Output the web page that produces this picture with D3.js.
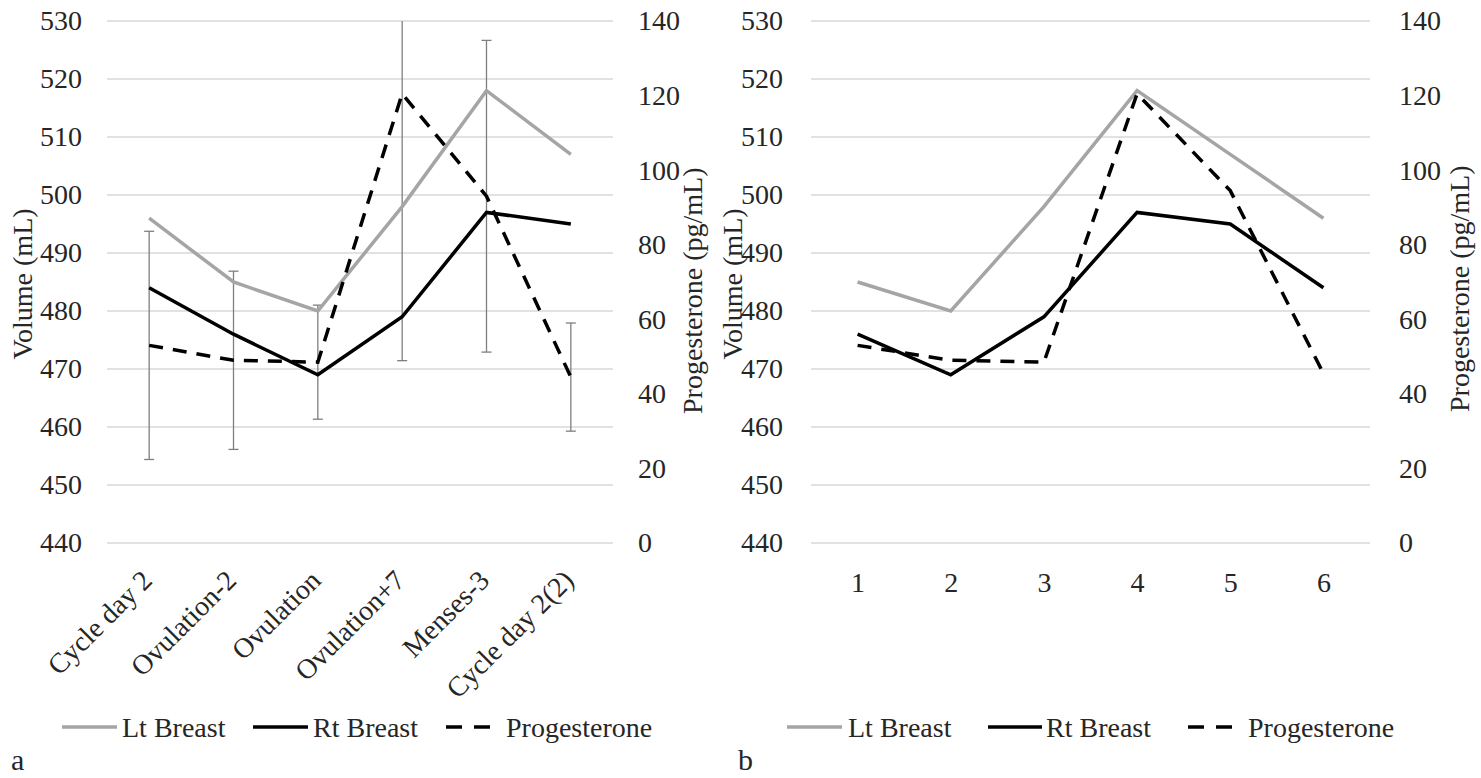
<!DOCTYPE html>
<html>
<head>
<meta charset="utf-8">
<script src="https://cdn.jsdelivr.net/npm/d3@7"></script>
<style>
  html, body { margin: 0; padding: 0; background: #fff; }
  svg { display: block; }
  svg text { font-family: "Liberation Serif", "DejaVu Serif", "Times New Roman", Times, serif !important; fill: #262626; }
</style>
</head>
<body>
<svg id="chart" width="1481" height="778" font-family="Liberation Serif, DejaVu Serif, serif"></svg>
<script>
// ---------- data ----------
const categoriesA = ["Cycle day 2", "Ovulation-2", "Ovulation", "Ovulation+7", "Menses-3", "Cycle day 2(2)"];
const categoriesB = ["1", "2", "3", "4", "5", "6"];

const ltBreastA = [496, 485, 480, 498, 518, 507];
const rtBreastA = [484, 476, 469, 479, 497, 495];
const progesteroneA = [53, 49, 48.5, 120.5, 93, 44.5];
const progesteroneErrA = [30.6, 23.9, 15.3, 71.6, 41.8, 14.5];

const ltBreastB = [485, 480, 498, 518, 507, 496];
const rtBreastB = [476, 469, 479, 497, 495, 484];
const progesteroneB = [53, 49, 48.5, 120.5, 94.5, 45.5];

const volumeTicks = [440, 450, 460, 470, 480, 490, 500, 510, 520, 530];
const progesteroneTicks = [0, 20, 40, 60, 80, 100, 120, 140];

const seriesNames = ["Lt Breast", "Rt Breast", "Progesterone"];
const volumeTitle = "Volume (mL)";
const progesteroneTitle = "Progesterone (pg/mL)";

// ---------- layout / style ----------
const FONT = 28;
const FAMILY = "'Liberation Serif', 'DejaVu Serif', 'Times New Roman', serif";
const colors = { lt: "#a5a5a5", rt: "#000000", prog: "#000000", grid: "#d9d9d9", err: "#7f7f7f" };
const LINE_W = 3.5;
const DASH = "14,10";

const panels = [
  {
    id: "a", cats: categoriesA, lt: ltBreastA, rt: rtBreastA, prog: progesteroneA, err: progesteroneErrA,
    x0: 107, x1: 613, top: 21, bottom: 543,
    leftPad: 25, rightPad: 25, rotated: true,
    volTitleX: 32, progTitleX: 702, titleBottom: 414,
    legend: { y: 727, items: [[62, 117, 122], [253, 308, 313], [446, 495, 506]] },
    letterX: 11
  },
  {
    id: "b", cats: categoriesB, lt: ltBreastB, rt: rtBreastB, prog: progesteroneB, err: null,
    x0: 811, x1: 1370, top: 21, bottom: 543,
    leftPad: 28, rightPad: 29, rotated: false,
    volTitleX: 742, progTitleX: 1469, titleBottom: 412,
    legend: { y: 727, items: [[787, 842, 848], [988, 1042, 1046], [1188, 1236, 1248]] },
    letterX: 738
  }
];

const svg = d3.select("#chart");
svg.append("rect").attr("width", 1481).attr("height", 778).attr("fill", "#fff");

function styleText(sel, size) {
  sel.attr("font-size", size).attr("font-family", FAMILY)
    .style("font-family", FAMILY).attr("fill", "#262626");
}

panels.forEach((p) => {
  const g = svg.append("g");
  const x = d3.scalePoint().domain(p.cats).range([p.x0, p.x1]).padding(0.5);
  const yL = d3.scaleLinear().domain([440, 530]).range([p.bottom, p.top]);
  const yR = d3.scaleLinear().domain([0, 140]).range([p.bottom, p.top]);

  // gridlines
  g.append("g").selectAll("line").data(volumeTicks).join("line")
    .attr("x1", p.x0).attr("x2", p.x1)
    .attr("y1", d => yL(d)).attr("y2", d => yL(d))
    .attr("stroke", colors.grid).attr("stroke-width", 1.5);

  // left axis
  const axL = g.append("g").attr("transform", `translate(${p.x0},0)`)
    .call(d3.axisLeft(yL).tickValues(volumeTicks).tickSize(0).tickPadding(p.leftPad).tickFormat(d3.format("d")));
  axL.attr("font-family", FAMILY).attr("font-size", FONT);
  axL.select(".domain").remove();
  styleText(axL.selectAll("text"), FONT);

  // right axis
  const axR = g.append("g").attr("transform", `translate(${p.x1},0)`)
    .call(d3.axisRight(yR).tickValues(progesteroneTicks).tickSize(0).tickPadding(p.rightPad).tickFormat(d3.format("d")));
  axR.attr("font-family", FAMILY).attr("font-size", FONT);
  axR.select(".domain").remove();
  styleText(axR.selectAll("text"), FONT);

  // bottom axis
  const axB = g.append("g").attr("transform", `translate(0,${p.bottom})`)
    .call(d3.axisBottom(x).tickSize(0).tickPadding(29));
  axB.attr("font-family", FAMILY).attr("font-size", FONT);
  axB.select(".domain").remove();
  styleText(axB.selectAll("text"), FONT);
  if (p.rotated) {
    axB.selectAll("text")
      .attr("y", 0).attr("dy", 0)
      .attr("text-anchor", "end")
      .attr("transform", "translate(4,39) rotate(-45)");
  }

  // axis titles
  styleText(g.append("text")
    .attr("transform", `translate(${p.volTitleX},${(p.top + p.bottom) / 2 + 2}) rotate(-90)`)
    .attr("text-anchor", "middle").text(volumeTitle), FONT);
  styleText(g.append("text")
    .attr("transform", `translate(${p.progTitleX},${p.titleBottom}) rotate(-90)`)
    .attr("text-anchor", "start").text(progesteroneTitle), FONT);

  // clip for plot area
  const clipId = "clip-" + p.id;
  svg.append("defs").append("clipPath").attr("id", clipId)
    .append("rect").attr("x", p.x0 - 20).attr("y", p.top).attr("width", p.x1 - p.x0 + 40).attr("height", p.bottom - p.top);

  // error bars (progesterone)
  if (p.err) {
    const eb = g.append("g").attr("clip-path", `url(#${clipId})`)
      .attr("stroke", colors.err).attr("stroke-width", 1.3);
    const data = p.cats.map((c, i) => ({ c, v: p.prog[i], e: p.err[i] }));
    eb.selectAll("line.v").data(data).join("line").attr("class", "v")
      .attr("x1", d => x(d.c)).attr("x2", d => x(d.c))
      .attr("y1", d => yR(d.v + d.e)).attr("y2", d => yR(d.v - d.e));
    eb.selectAll("line.t").data(data).join("line").attr("class", "t")
      .attr("x1", d => x(d.c) - 5).attr("x2", d => x(d.c) + 5)
      .attr("y1", d => yR(d.v + d.e)).attr("y2", d => yR(d.v + d.e));
    eb.selectAll("line.b").data(data).join("line").attr("class", "b")
      .attr("x1", d => x(d.c) - 5).attr("x2", d => x(d.c) + 5)
      .attr("y1", d => yR(d.v - d.e)).attr("y2", d => yR(d.v - d.e));
  }

  // lines
  const lineL = d3.line().x((d, i) => x(p.cats[i])).y(d => yL(d));
  const lineR = d3.line().x((d, i) => x(p.cats[i])).y(d => yR(d));
  g.append("path").datum(p.lt).attr("d", lineL).attr("fill", "none")
    .attr("stroke", colors.lt).attr("stroke-width", LINE_W);
  g.append("path").datum(p.rt).attr("d", lineL).attr("fill", "none")
    .attr("stroke", colors.rt).attr("stroke-width", LINE_W);
  g.append("path").datum(p.prog).attr("d", lineR).attr("fill", "none")
    .attr("stroke", colors.prog).attr("stroke-width", LINE_W).attr("stroke-dasharray", DASH);

  // legend
  const styles = [
    { stroke: colors.lt, dash: null },
    { stroke: colors.rt, dash: null },
    { stroke: colors.prog, dash: "16,12" }
  ];
  const lg = g.append("g");
  p.legend.items.forEach((it, k) => {
    lg.append("line").attr("x1", it[0]).attr("x2", it[1])
      .attr("y1", p.legend.y).attr("y2", p.legend.y)
      .attr("stroke", styles[k].stroke).attr("stroke-width", LINE_W)
      .attr("stroke-dasharray", styles[k].dash);
    styleText(lg.append("text").attr("x", it[2]).attr("y", p.legend.y + 10).text(seriesNames[k]), FONT);
  });

  // panel letter
  styleText(g.append("text").attr("x", p.letterX).attr("y", 770).text(p.id), 30);
});
</script>
</body>
</html>
